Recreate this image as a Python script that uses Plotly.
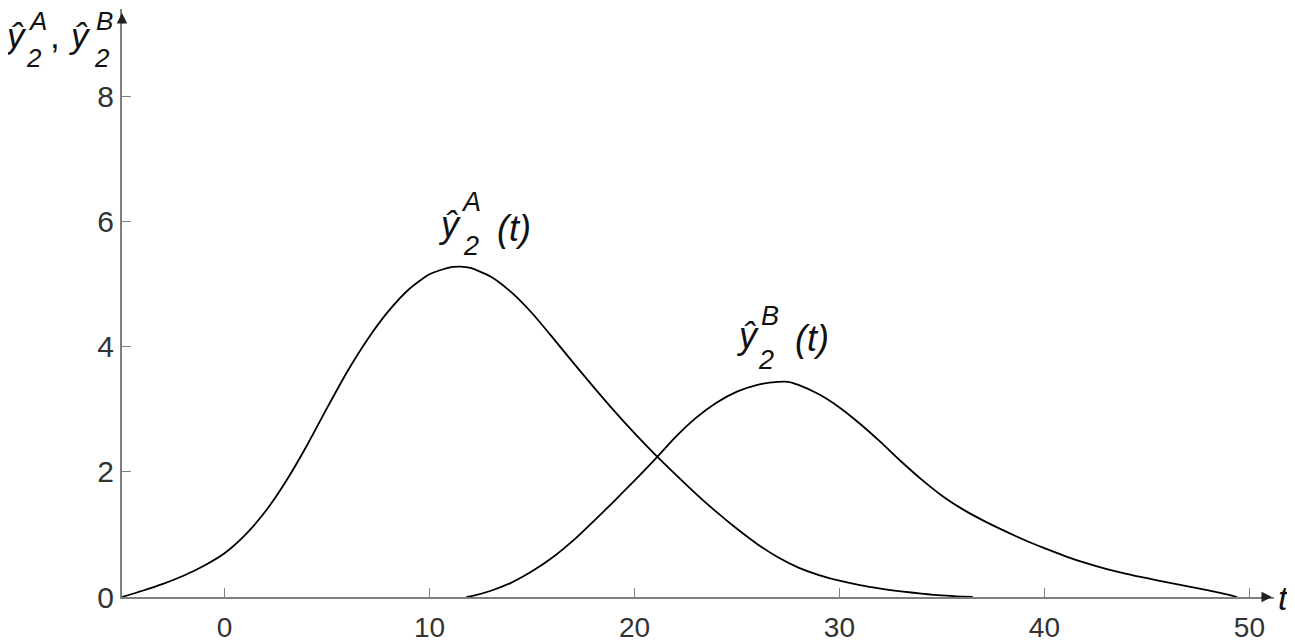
import plotly.graph_objects as go

# curve readings (t, value)
t_a = [-5, -4, -3, -2, -1, 0, 1, 2, 3, 4, 5, 6, 7, 8, 9, 10, 11, 11.5, 12,
       13, 14, 15, 16, 17, 18, 19, 20, 21, 22, 23, 24, 25, 26, 27, 28, 29,
       30, 31, 32, 33, 34, 35, 36, 36.5]
y_a = [0, 0.10, 0.21, 0.34, 0.50, 0.70, 0.99, 1.37, 1.85, 2.41, 3.02, 3.61,
       4.13, 4.57, 4.92, 5.16, 5.27, 5.28, 5.26, 5.12, 4.87, 4.54, 4.15,
       3.75, 3.36, 2.98, 2.62, 2.28, 1.96, 1.65, 1.36, 1.09, 0.845, 0.635,
       0.47, 0.35, 0.26, 0.19, 0.135, 0.09, 0.055, 0.025, 0.006, 0]

t_b = [11.8, 12, 13, 14, 15, 16, 17, 18, 19, 20, 21, 22, 23, 24, 25, 26,
       27, 27.5, 28, 29, 30, 31, 32, 33, 34, 35, 36, 37, 38, 39, 40, 41, 42,
       43, 44, 45, 46, 47, 48, 49, 49.4]
y_b = [0, 0.01, 0.10, 0.23, 0.41, 0.63, 0.90, 1.21, 1.53, 1.86, 2.20, 2.556,
       2.863, 3.105, 3.282, 3.393, 3.439, 3.44, 3.39, 3.24, 3.03, 2.77, 2.48,
       2.17, 1.88, 1.62, 1.405, 1.225, 1.065, 0.915, 0.78, 0.655, 0.545,
       0.45, 0.37, 0.30, 0.235, 0.17, 0.105, 0.035, 0]

x_ticks = [0, 10, 20, 30, 40, 50]
y_ticks = [0, 2, 4, 6, 8]

# the page body has an 8px margin, so the figure is drawn 8px in from the corner
VIEW_W, VIEW_H, PAD = 1295, 644, 8
PLOT_L, PLOT_T, PLOT_R, PLOT_B = 122, 9, 1274, 597  # plot area on screen
PW, PH = PLOT_R - PLOT_L, PLOT_B - PLOT_T

FONT = "Liberation Sans"
AXIS = "#7f7f7f"


def px(xp, yp):
    # screen pixel -> paper coordinates
    return (xp - PLOT_L) / PW, (PLOT_B - yp) / PH


def label(text, xp, yp, size):
    x, y = px(xp, yp)
    return dict(
        text=text, x=x, y=y, xref="paper", yref="paper",
        xanchor="center", yanchor="middle", showarrow=False,
        font=dict(family=FONT, size=size, color="#111111"),
    )


fig = go.Figure()

for tt, yy in [(t_a, y_a), (t_b, y_b)]:
    fig.add_trace(go.Scatter(x=tt, y=yy, mode="lines",
                             line=dict(color="black", width=1.8, shape="spline", smoothing=0.6)))

anns = [
    # curve labels
    label("<i>ŷ</i>", 449, 224, 36),
    label("<i>A</i>", 471, 202, 27),
    label("<i>2</i>", 471, 246, 27),
    label("<i>(t)</i>", 514, 228, 36),
    label("<i>ŷ</i>", 747, 335, 36),
    label("<i>B</i>", 770, 316, 27),
    label("<i>2</i>", 766, 360, 27),
    label("<i>(t)</i>", 812, 338, 36),
    # y axis title
    label("<i>ŷ</i>", 16, 36, 35),
    label("<i>A</i>", 37, 21, 26),
    label("<i>2</i>", 34, 58, 26),
    label(",", 55, 36, 35),
    label("<i>ŷ</i>", 80, 36, 35),
    label("<i>B</i>", 104, 21, 26),
    label("<i>2</i>", 102, 58, 26),
    # x axis title
    label("<i>t</i>", 1283, 598, 34),
]

# arrow heads at axis ends
xa, ya = px(1272, PLOT_B)
anns.append(dict(x=xa, y=ya, xref="paper", yref="paper", text="", showarrow=True,
                 ax=-12, ay=0, arrowhead=2, arrowsize=1.4, arrowwidth=1.5, arrowcolor="#222"))
xa, ya = px(PLOT_L, 13)
anns.append(dict(x=xa, y=ya, xref="paper", yref="paper", text="", showarrow=True,
                 ax=0, ay=12, arrowhead=2, arrowsize=1.4, arrowwidth=1.5, arrowcolor="#222"))

fig.update_layout(
    width=VIEW_W - PAD, height=VIEW_H - PAD,
    margin=dict(l=PLOT_L - PAD, r=VIEW_W - PLOT_R, t=PLOT_T - PAD, b=VIEW_H - PLOT_B,
                autoexpand=False),
    template="none",
    paper_bgcolor="white", plot_bgcolor="white",
    showlegend=False,
    annotations=anns,
    xaxis=dict(range=[-5, 51.2], tickvals=x_ticks, showgrid=False, zeroline=False,
               showline=True, linecolor=AXIS, linewidth=2,
               ticks="inside", ticklen=9, tickwidth=1, tickcolor=AXIS,
               tickfont=dict(family=FONT, size=28, color="#333333"),
               ticklabelstandoff=4),
    yaxis=dict(range=[0, 9.4], tickvals=y_ticks, showgrid=False, zeroline=False,
               showline=True, linecolor=AXIS, linewidth=2,
               ticks="inside", ticklen=9, tickwidth=1, tickcolor=AXIS,
               tickfont=dict(family=FONT, size=30, color="#333333"),
               ticklabelstandoff=0),
)

fig.write_html("out.html")
